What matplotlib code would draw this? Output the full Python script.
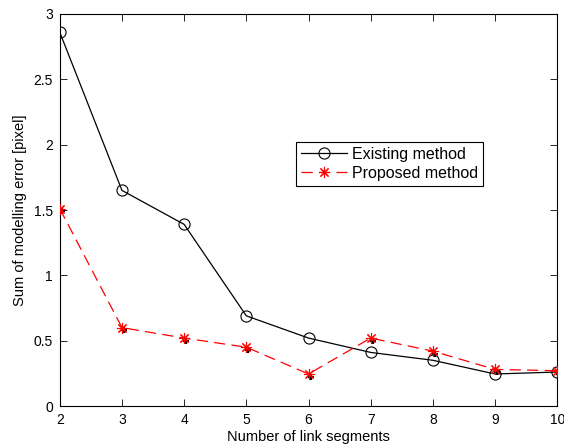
import matplotlib.pyplot as plt
import matplotlib.transforms as mtransforms

segments = [2, 3, 4, 5, 6, 7, 8, 9, 10]
existing = [2.86, 1.65, 1.39, 0.69, 0.52, 0.41, 0.35, 0.245, 0.26]
proposed = [1.51, 0.60, 0.52, 0.45, 0.245, 0.52, 0.42, 0.28, 0.27]

plt.rcParams['font.family'] = ['Liberation Sans', 'DejaVu Sans']

fig = plt.figure(figsize=(5.64, 4.47), dpi=100)
ax = fig.add_axes([0.106, 0.0917, 0.882, 0.877])

ax.plot(segments, existing, color='black', linewidth=0.9, marker='o',
        markersize=8, markerfacecolor='none', markeredgecolor='black',
        markeredgewidth=0.8, label='Existing method')

# dark shadow under the red asterisks, as in the original render
shadow = mtransforms.offset_copy(ax.transData, fig=fig, x=1.5, y=-2.0, units='points')
ax.plot(segments, proposed, linestyle='none', marker='+', markersize=5,
        color='black', markeredgewidth=1.6, transform=shadow, zorder=2)
ax.plot(segments, proposed, color='red', linewidth=0.9, dashes=(9, 5),
        marker=(8, 2, 0), markersize=8, markeredgecolor='red',
        markeredgewidth=0.8, label='Proposed method', zorder=3)

ax.set_xlim(2, 10)
ax.set_ylim(0, 3)
ax.set_xticks(segments)
ax.set_yticks([0, 0.5, 1, 1.5, 2, 2.5, 3])
ax.set_yticklabels(['0', '0.5', '1', '1.5', '2', '2.5', '3'])
ax.tick_params(direction='in', top=True, right=True, labelsize=10, length=5,
               width=0.6, pad=5)
for s in ax.spines.values():
    s.set_linewidth(0.8)

ax.set_xlabel('Number of link segments', fontsize=10.5, labelpad=2)
ax.set_ylabel('Sum of modelling error [pixel]', fontsize=10.5, labelpad=5)

leg = ax.legend(loc='upper left', bbox_to_anchor=(0.525, 0.682),
                bbox_transform=fig.transFigure, fontsize=11.5, fancybox=False,
                framealpha=1, edgecolor='black', borderpad=0.3, borderaxespad=0,
                handlelength=2.9, handletextpad=0.3, labelspacing=0.25)
leg.get_frame().set_linewidth(0.8)

fig.savefig('out.png', dpi=100)
